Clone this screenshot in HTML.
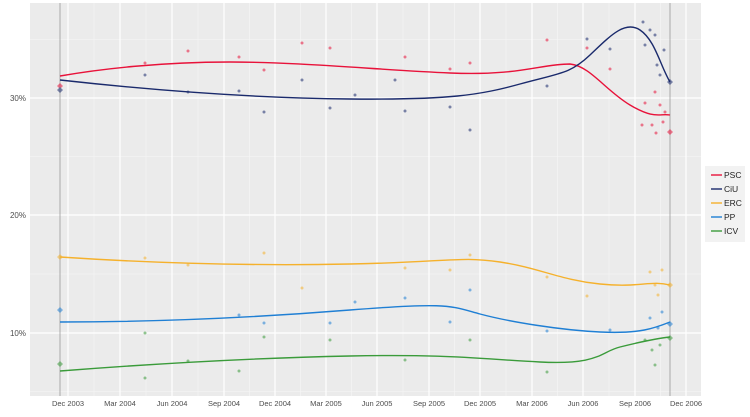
<!DOCTYPE html>
<html><head><style>body{margin:0;background:#fff}svg{display:block;font-family:"Liberation Sans",sans-serif}</style></head><body>
<svg width="750" height="417" xmlns="http://www.w3.org/2000/svg">
<rect x="30" y="3" width="671" height="393" fill="#ebebeb"/>
<g stroke="#f7f7f7" stroke-width="0.6">
<line x1="30" x2="701" y1="39.5" y2="39.5"/><line x1="30" x2="701" y1="156.5" y2="156.5"/><line x1="30" x2="701" y1="274" y2="274"/><line x1="30" x2="701" y1="391.5" y2="391.5"/>
<line x1="94" x2="94" y1="3" y2="396"/><line x1="146" x2="146" y1="3" y2="396"/><line x1="198" x2="198" y1="3" y2="396"/><line x1="249.5" x2="249.5" y1="3" y2="396"/><line x1="300.5" x2="300.5" y1="3" y2="396"/><line x1="351.5" x2="351.5" y1="3" y2="396"/><line x1="403" x2="403" y1="3" y2="396"/><line x1="454.5" x2="454.5" y1="3" y2="396"/><line x1="506" x2="506" y1="3" y2="396"/><line x1="557.5" x2="557.5" y1="3" y2="396"/><line x1="609" x2="609" y1="3" y2="396"/><line x1="660.5" x2="660.5" y1="3" y2="396"/>
</g>
<g stroke="#fff" stroke-width="1.2">
<line x1="30" x2="701" y1="98" y2="98"/><line x1="30" x2="701" y1="215" y2="215"/><line x1="30" x2="701" y1="333" y2="333"/>
<line x1="68" x2="68" y1="3" y2="396"/><line x1="120" x2="120" y1="3" y2="396"/><line x1="172" x2="172" y1="3" y2="396"/><line x1="224" x2="224" y1="3" y2="396"/><line x1="275" x2="275" y1="3" y2="396"/><line x1="326" x2="326" y1="3" y2="396"/><line x1="377" x2="377" y1="3" y2="396"/><line x1="429" x2="429" y1="3" y2="396"/><line x1="480" x2="480" y1="3" y2="396"/><line x1="532" x2="532" y1="3" y2="396"/><line x1="583" x2="583" y1="3" y2="396"/><line x1="635" x2="635" y1="3" y2="396"/><line x1="686" x2="686" y1="3" y2="396"/>
</g>
<line x1="60" x2="60" y1="3" y2="396" stroke="#999" stroke-width="0.8"/>
<line x1="670" x2="670" y1="3" y2="396" stroke="#999" stroke-width="0.8"/>
<g font-size="8" fill="#4d4d4d" text-anchor="end">
<text x="26" y="101">30%</text><text x="26" y="218">20%</text><text x="26" y="336">10%</text>
</g>
<g font-size="7.5" fill="#4d4d4d" text-anchor="middle">
<text x="68" y="406">Dec 2003</text><text x="120" y="406">Mar 2004</text><text x="172" y="406">Jun 2004</text><text x="224" y="406">Sep 2004</text><text x="275" y="406">Dec 2004</text><text x="326" y="406">Mar 2005</text><text x="377" y="406">Jun 2005</text><text x="429" y="406">Sep 2005</text><text x="480" y="406">Dec 2005</text><text x="532" y="406">Mar 2006</text><text x="583" y="406">Jun 2006</text><text x="635" y="406">Sep 2006</text><text x="686" y="406">Dec 2006</text>
</g>
<g opacity="0.55">
<g fill="#e8123a"><circle cx="145" cy="63" r="1.5"/><circle cx="188" cy="51" r="1.5"/><circle cx="239" cy="57" r="1.5"/><circle cx="264" cy="70" r="1.5"/><circle cx="302" cy="43" r="1.5"/><circle cx="330" cy="48" r="1.5"/><circle cx="405" cy="57" r="1.5"/><circle cx="450" cy="69" r="1.5"/><circle cx="470" cy="63" r="1.5"/><circle cx="547" cy="40" r="1.5"/><circle cx="587" cy="48" r="1.5"/><circle cx="610" cy="69" r="1.5"/><circle cx="645" cy="103" r="1.5"/><circle cx="655" cy="92" r="1.5"/><circle cx="660" cy="105" r="1.5"/><circle cx="642" cy="125" r="1.5"/><circle cx="652" cy="125" r="1.5"/><circle cx="663" cy="122" r="1.5"/><circle cx="656" cy="133" r="1.5"/><circle cx="665" cy="112" r="1.5"/></g>
<g fill="#1a2a6c"><circle cx="145" cy="75" r="1.5"/><circle cx="188" cy="92" r="1.5"/><circle cx="239" cy="91" r="1.5"/><circle cx="264" cy="112" r="1.5"/><circle cx="302" cy="80" r="1.5"/><circle cx="330" cy="108" r="1.5"/><circle cx="355" cy="95" r="1.5"/><circle cx="395" cy="80" r="1.5"/><circle cx="405" cy="111" r="1.5"/><circle cx="450" cy="107" r="1.5"/><circle cx="470" cy="130" r="1.5"/><circle cx="547" cy="86" r="1.5"/><circle cx="587" cy="39" r="1.5"/><circle cx="610" cy="49" r="1.5"/><circle cx="643" cy="22" r="1.5"/><circle cx="650" cy="30" r="1.5"/><circle cx="655" cy="35" r="1.5"/><circle cx="645" cy="45" r="1.5"/><circle cx="657" cy="65" r="1.5"/><circle cx="664" cy="50" r="1.5"/><circle cx="660" cy="75" r="1.5"/></g>
<g fill="#f5b12c"><circle cx="145" cy="258" r="1.5"/><circle cx="188" cy="265" r="1.5"/><circle cx="264" cy="253" r="1.5"/><circle cx="302" cy="288" r="1.5"/><circle cx="405" cy="268" r="1.5"/><circle cx="450" cy="270" r="1.5"/><circle cx="470" cy="255" r="1.5"/><circle cx="547" cy="277" r="1.5"/><circle cx="587" cy="296" r="1.5"/><circle cx="650" cy="272" r="1.5"/><circle cx="658" cy="295" r="1.5"/><circle cx="662" cy="270" r="1.5"/><circle cx="655" cy="285" r="1.5"/></g>
<g fill="#1f7fd4"><circle cx="239" cy="315" r="1.5"/><circle cx="264" cy="323" r="1.5"/><circle cx="330" cy="323" r="1.5"/><circle cx="355" cy="302" r="1.5"/><circle cx="405" cy="298" r="1.5"/><circle cx="450" cy="322" r="1.5"/><circle cx="470" cy="290" r="1.5"/><circle cx="547" cy="331" r="1.5"/><circle cx="610" cy="330" r="1.5"/><circle cx="650" cy="318" r="1.5"/><circle cx="658" cy="328" r="1.5"/><circle cx="662" cy="312" r="1.5"/></g>
<g fill="#3a9b3a"><circle cx="145" cy="333" r="1.5"/><circle cx="145" cy="378" r="1.5"/><circle cx="188" cy="361" r="1.5"/><circle cx="239" cy="371" r="1.5"/><circle cx="264" cy="337" r="1.5"/><circle cx="330" cy="340" r="1.5"/><circle cx="405" cy="360" r="1.5"/><circle cx="470" cy="340" r="1.5"/><circle cx="547" cy="372" r="1.5"/><circle cx="645" cy="340" r="1.5"/><circle cx="652" cy="350" r="1.5"/><circle cx="660" cy="345" r="1.5"/><circle cx="655" cy="365" r="1.5"/></g>
<path d="M60 83l3 3-3 3-3-3z M670 129l3 3-3 3-3-3z" fill="#e8123a"/>
<path d="M60 87l3 3-3 3-3-3z M670 79l3 3-3 3-3-3z" fill="#1a2a6c"/>
<path d="M60 254l3 3-3 3-3-3z M670 282l3 3-3 3-3-3z" fill="#f5b12c"/>
<path d="M60 307l3 3-3 3-3-3z M670 321l3 3-3 3-3-3z" fill="#1f7fd4"/>
<path d="M60 361l3 3-3 3-3-3z M670 335l3 3-3 3-3-3z" fill="#3a9b3a"/>
</g>
<g fill="none" stroke-width="1.4">
<path stroke="#e8123a" d="M60 76 C100 69 160 62 230 62 S380 70 450 73 S540 64 570 64 C590 66 605 90 630 105 S660 113 670 115"/>
<path stroke="#1a2a6c" d="M60 80 C150 90 250 98 350 99 S480 95 520 84 S570 74 590 55 S625 20 640 30 S660 65 670 82"/>
<path stroke="#f5b12c" d="M60 257 C150 263 250 266 350 264 S460 256 500 262 S560 280 600 284 S650 280 670 285"/>
<path stroke="#1f7fd4" d="M60 322 C160 322 250 318 350 310 S450 306 480 314 S560 330 600 332 S655 328 670 322"/>
<path stroke="#3a9b3a" d="M60 371 C150 364 250 358 350 356 S480 359 540 362 S600 352 620 347 S660 338 670 337"/>
</g>
<rect x="705" y="166" width="40" height="76" fill="#f2f2f2"/>
<g stroke-width="1.4"><line x1="711" x2="722" y1="175" y2="175" stroke="#e8123a"/><line x1="711" x2="722" y1="189" y2="189" stroke="#1a2a6c"/><line x1="711" x2="722" y1="203" y2="203" stroke="#f5b12c"/><line x1="711" x2="722" y1="217" y2="217" stroke="#1f7fd4"/><line x1="711" x2="722" y1="231" y2="231" stroke="#3a9b3a"/></g>
<g font-size="8.5" fill="#222"><text x="724" y="178">PSC</text><text x="724" y="192">CiU</text><text x="724" y="206">ERC</text><text x="724" y="220">PP</text><text x="724" y="234">ICV</text></g>
</svg>
</body></html>
